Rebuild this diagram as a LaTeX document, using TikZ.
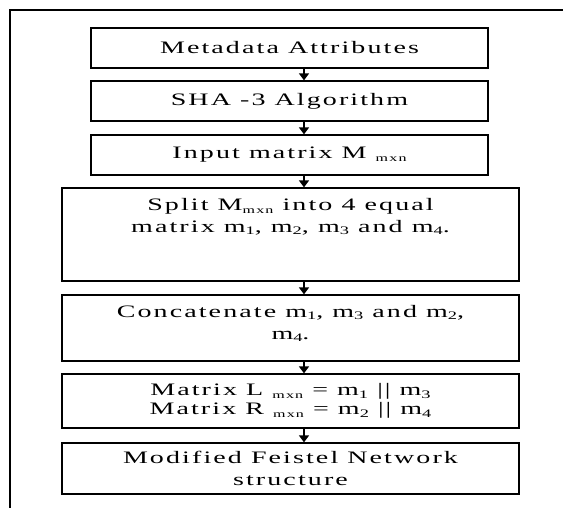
\documentclass[tikz,border=0pt]{standalone}
\usepackage{fontspec}
\setmainfont{Liberation Serif}
\newfontfamily\boxfont[FakeStretch=1.6, LetterSpace=12]{Liberation Serif}
\usetikzlibrary{arrows.meta}
% lowered subscripts as they are typed in the stage labels
\newcommand{\lowsub}[1]{\raisebox{-2.5pt}{\fontsize{11.5}{11.5}\selectfont #1}}
\newcommand{\tinysub}[1]{\raisebox{-3pt}{\fontsize{10}{10}\selectfont #1}}
\tikzset{
  stage/.style={draw, line width=1.3pt, rectangle, inner sep=0pt, align=center,
    font=\boxfont\fontsize{17.5}{22}\selectfont,
    minimum height=40pt, minimum width=397pt},
  widestage/.style={stage, minimum width=457pt},
  flow/.style={line width=1.5pt, -{Triangle[width=10pt,length=7pt]}},
  frameline/.style={line width=2pt}
}
\begin{document}
\begin{tikzpicture}[x=1pt,y=1pt]
\useasboundingbox (0,0) rectangle (563,-508);
% outer frame
\begin{scope}
  \clip (0,0) rectangle (563,-508);
  \draw[frameline] (10,-10) rectangle (620,-560);
\end{scope}
\coordinate (ax) at (304,0);
\node[stage] (b1) at (289.5,-48) {Metadata Attributes};
\node[stage] (b2) at (289.5,-101) {SHA -3 Algorithm};
\node[stage] (b3) at (289.5,-155) {Input matrix M \tinysub{mxn}};
\node[widestage, minimum height=93pt] (b4) at (290.5,-234.5)
  {\parbox[c][93pt][t]{450pt}{\centering\rule{0pt}{22pt}Split M\tinysub{mxn} into 4 equal\\
   matrix m\lowsub{1}, m\lowsub{2}, m\lowsub{3} and m\lowsub{4}.}};
\node[widestage, minimum height=66pt] (b5) at (290.5,-328)
  {\parbox[c][66pt][t]{450pt}{\centering\rule{0pt}{22pt}Concatenate m\lowsub{1}, m\lowsub{3} and m\lowsub{2},\\
   m\lowsub{4}.}};
\node[widestage, minimum height=54pt, font=\boxfont\fontsize{17.5}{19}\selectfont] (b6) at (290.5,-401)
  {Matrix L \tinysub{mxn} = m\lowsub{1} || m\lowsub{3}\\
   Matrix R \tinysub{mxn} = m\lowsub{2} || m\lowsub{4}};
\node[widestage, minimum height=51pt] (b7) at (290.5,-468.5)
  {Modified Feistel Network\\ structure};
\foreach \a/\b in {b1/b2, b2/b3, b3/b4, b4/b5, b5/b6, b6/b7}
  \draw[flow] (\a.south -| ax) -- (\b.north -| ax);
\end{tikzpicture}
\end{document}
